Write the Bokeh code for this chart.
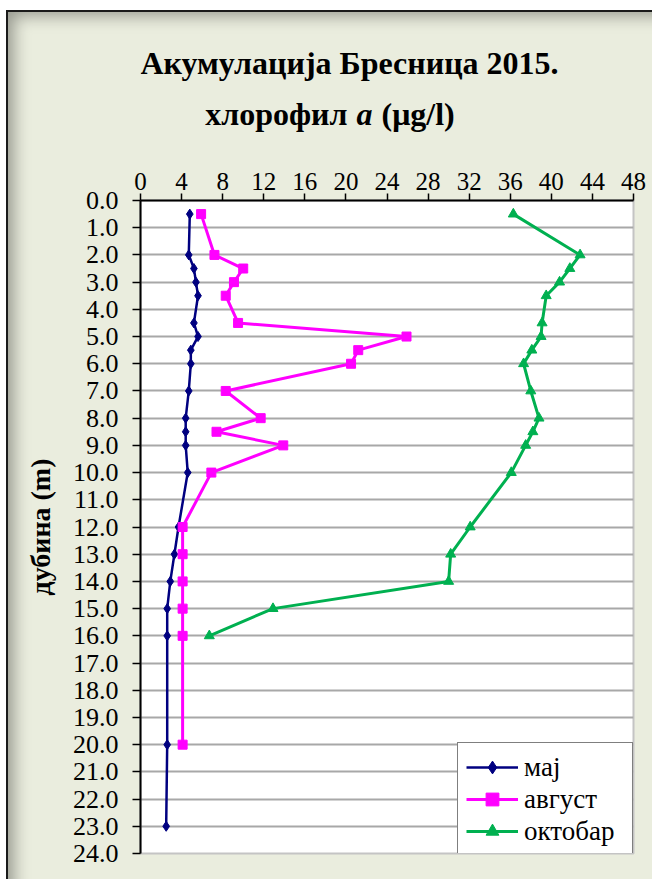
from bokeh.plotting import figure
from bokeh.layouts import column
from bokeh.models import Range1d, FixedTicker, PrintfTickFormatter, Label, Legend, LegendItem
from bokeh.embed import file_html
from bokeh.resources import INLINE

# ---- data ----
depth_maj = [0.5, 2, 2.5, 3, 3.5, 4.5, 5, 5.5, 6, 7, 8, 8.5, 9, 10, 12, 13, 14, 15, 16, 20, 23]
maj = [4.8, 4.7, 5.2, 5.4, 5.6, 5.2, 5.6, 4.9, 4.9, 4.7, 4.4, 4.4, 4.4, 4.6, 3.7, 3.3, 2.9, 2.6, 2.6, 2.6, 2.5]

depth_avg = [0.5, 2, 2.5, 3, 3.5, 4.5, 5, 5.5, 6, 7, 8, 8.5, 9, 10, 12, 13, 14, 15, 16, 20]
avg = [5.9, 7.2, 10.0, 9.1, 8.3, 9.5, 25.9, 21.2, 20.5, 8.3, 11.7, 7.4, 13.9, 6.9, 4.1, 4.1, 4.1, 4.1, 4.1, 4.1]

depth_okt = [0.5, 2, 2.5, 3, 3.5, 4.5, 5, 5.5, 6, 7, 8, 8.5, 9, 10, 12, 13, 14, 15, 16]
okt = [36.3, 42.8, 41.8, 40.8, 39.5, 39.1, 39.0, 38.1, 37.3, 38.0, 38.8, 38.2, 37.5, 36.1, 32.1, 30.2, 30.0, 12.9, 6.7]

series_names = ["мај", "август", "октобар"]
x_ticks = list(range(0, 49, 4))
y_ticks = list(range(0, 25))

title1 = "Акумулација Бресница 2015."
title2a = "хлорофил"
title2b = "a"
title2c = "(μg/l)"
y_label = "дубина (m)"

FONT = "Liberation Serif"
BG = "#EAEDDE"
W = 652
HEAD_H = 150
MAIN_H = 729
FRAME_L, FRAME_R = 140, 633

# ---- header figure holding the two title lines ----
head = figure(width=W, height=HEAD_H, output_backend="svg", toolbar_location=None,
              x_range=Range1d(FRAME_L, FRAME_R), y_range=Range1d(HEAD_H, 0),
              x_axis_location=None, y_axis_location=None,
              min_border=0, min_border_left=0, min_border_right=0, min_border_top=0, min_border_bottom=0,
              background_fill_alpha=0.0, border_fill_alpha=0.0, outline_line_color=None)
head.xgrid.grid_line_color = None
head.ygrid.grid_line_color = None

def add_text(x, y, txt, align, style):
    head.add_layout(Label(x=x, y=y, text=txt, text_align=align, text_baseline="alphabetic",
                          text_font=FONT, text_font_size="32px", text_font_style=style,
                          text_color="black"))

add_text(349, 62, title1, "center", "bold")
add_text(347, 113, title2a, "right", "bold")
add_text(364, 113, title2b, "center", "bold italic")
add_text(381, 113, title2c, "left", "bold")

# ---- main chart ----
p = figure(width=W, height=MAIN_H, output_backend="svg", toolbar_location=None,
           x_axis_location="above",
           x_range=Range1d(0, 48), y_range=Range1d(24, 0),
           min_border_left=FRAME_L, min_border_top=50, min_border_right=W - FRAME_R, min_border_bottom=26,
           background_fill_color="white", border_fill_alpha=0.0)

p.outline_line_color = "#C4C4C4"
p.outline_line_width = 2

xa = p.xaxis[0]
xa.ticker = FixedTicker(ticks=x_ticks)
xa.major_label_text_font = FONT
xa.major_label_text_font_size = "25px"
xa.major_label_text_color = "black"
xa.major_tick_in = 0
xa.major_tick_out = 7
xa.minor_tick_line_color = None
xa.axis_line_color = "black"
xa.axis_line_width = 2
xa.major_tick_line_color = "black"
xa.major_tick_line_width = 1.5
xa.major_label_standoff = 4

ya = p.yaxis[0]
ya.ticker = FixedTicker(ticks=y_ticks)
ya.formatter = PrintfTickFormatter(format="%.1f")
ya.major_label_text_font = FONT
ya.major_label_text_font_size = "26px"
ya.major_label_text_color = "black"
ya.major_tick_in = 0
ya.major_tick_out = 8
ya.minor_tick_line_color = None
ya.axis_line_color = "black"
ya.axis_line_width = 2
ya.major_tick_line_color = "black"
ya.major_tick_line_width = 1.5
ya.major_label_standoff = 14
ya.axis_label = y_label
ya.axis_label_text_font = FONT
ya.axis_label_text_font_size = "28px"
ya.axis_label_text_font_style = "bold"
ya.axis_label_text_color = "black"
ya.axis_label_standoff = 14

p.xgrid.grid_line_color = None
p.ygrid.grid_line_color = "#A8A8A8"
p.ygrid.grid_line_width = 2

l1 = p.line(maj, depth_maj, line_color="#000080", line_width=2.5)
s1 = p.scatter(maj, depth_maj, marker="diamond", size=10, fill_color="#000080", line_color="#000080")
l2 = p.line(avg, depth_avg, line_color="#FF00FF", line_width=3)
s2 = p.scatter(avg, depth_avg, marker="square", size=9, fill_color="#FF00FF", line_color="#FF00FF")
l3 = p.line(okt, depth_okt, line_color="#00B050", line_width=3)
s3 = p.scatter(okt, depth_okt, marker="triangle", size=10, fill_color="#00B050", line_color="#00B050")

legend = Legend(items=[LegendItem(label=series_names[0], renderers=[l1, s1]),
                       LegendItem(label=series_names[1], renderers=[l2, s2]),
                       LegendItem(label=series_names[2], renderers=[l3, s3])],
                location=(317, -3))
legend.label_text_font = FONT
legend.label_text_font_size = "27px"
legend.label_text_color = "black"
legend.glyph_width = 52
legend.glyph_height = 32
legend.label_height = 32
legend.label_width = 100
legend.spacing = 0
legend.padding = 8
legend.margin = 0
legend.label_standoff = 6
legend.border_line_color = "black"
legend.border_line_width = 1.5
legend.background_fill_color = "white"
legend.background_fill_alpha = 1.0
p.add_layout(legend, "center")

layout = column(head, p, spacing=0,
                styles={"background-color": BG,
                        "box-shadow": "inset 6px 10px 0 0 white, inset 8px 12px 0 0 #1a1a1a, "
                                      "inset 22px 24px 16px -8px rgba(0,0,0,0.35)"})

open("out.html", "w").write(file_html(layout, INLINE))
